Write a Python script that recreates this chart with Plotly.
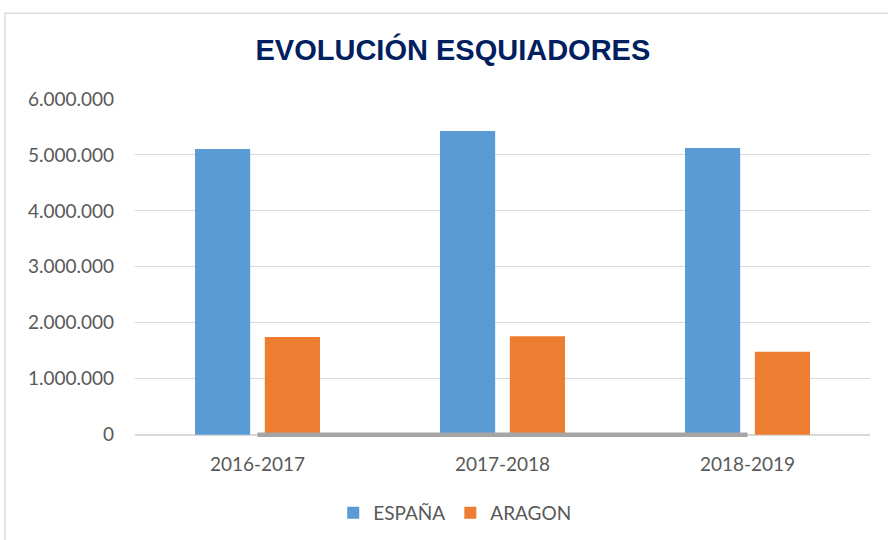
import plotly.graph_objects as go

# Data
temporadas = ["2016-2017", "2017-2018", "2018-2019"]
espana = [5107000, 5430000, 5125000]
aragon = [1744000, 1760000, 1480000]
# third series (Aragon share of Spain), invisible on this scale -> grey line at 0
cuota_aragon = [0.34, 0.32, 0.29]

AZUL = "#5B9BD5"
NARANJA = "#ED7D31"
GRIS = "#A5A5A5"
TEXTO = "#595959"
FUENTE = "Lato"

Y_MIN = -60000  # small room under 0 so the grey line is not clipped
Y_MAX = 6000000

fig = go.Figure()
fig.add_trace(go.Bar(name="ESPAÑA", x=temporadas, y=espana, marker_color=AZUL,
                     marker_line_width=0))
fig.add_trace(go.Bar(name="ARAGON", x=temporadas, y=aragon, marker_color=NARANJA,
                     marker_line_width=0))
fig.add_trace(go.Scatter(x=temporadas, y=cuota_aragon, mode="lines",
                         line=dict(color=GRIS, width=4.5), showlegend=False,
                         hoverinfo="skip"))

fig.update_layout(
    width=888, height=540,
    margin=dict(l=135, r=18, t=99, b=101.5, autoexpand=False),
    paper_bgcolor="white", plot_bgcolor="white",
    separators=",.",
    barmode="group", bargap=0.43, bargroupgap=0.21,
    title=dict(text="<b>EVOLUCIÓN ESQUIADORES</b>", x=0.51, xanchor="center",
               y=0.908, yanchor="middle",
               font=dict(family="Liberation Sans", size=29, color="#002060")),
    font=dict(family=FUENTE, size=19, color=TEXTO),
    legend=dict(orientation="h", x=0.435, xanchor="center",
                yref="container", y=0.05, yanchor="middle",
                font=dict(family=FUENTE, size=19, color=TEXTO),
                traceorder="normal", itemwidth=30),
    showlegend=True,
)

fig.update_yaxes(range=[Y_MIN, Y_MAX], tickvals=[0, 1e6, 2e6, 3e6, 4e6, 5e6, 6e6],
                 tickformat=",d", automargin=False,
                 showgrid=True, gridcolor="#D9D9D9", gridwidth=1,
                 zeroline=True, zerolinecolor="#D9D9D9", zerolinewidth=1.5,
                 showline=False, ticks="", ticklabelstandoff=20,
                 tickfont=dict(family=FUENTE, size=19, color=TEXTO))
fig.update_xaxes(showline=False, ticks="", ticklabelstandoff=13, automargin=False,
                 tickfont=dict(family=FUENTE, size=19, color=TEXTO))

# outer chart frame (left and top edges visible in the reference)
fig.add_shape(type="rect", xref="paper", yref="paper",
              x0=-0.1769, x1=1.03, y0=-0.33, y1=1.253,
              line=dict(color="#D9D9D9", width=1.5), fillcolor="rgba(0,0,0,0)",
              layer="below")

fig.write_html("out.html", config={"displayModeBar": False},
               post_script="document.body.style.margin='0';")
